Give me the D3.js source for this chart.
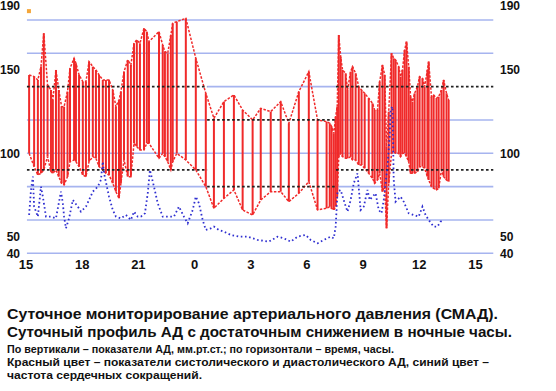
<html>
<head>
<meta charset="UTF-8"/>
<script src="https://d3js.org/d3.v7.min.js"></script>
<style>
body{margin:0;background:#fff;}
text{font-family:"Liberation Sans",Arial,sans-serif;font-weight:bold;fill:#111;}
</style>
</head>
<body>
<script>
const width = 556, height = 391;

// измерения АД: время, систолическое, диастолическое
const times = ["15:10","15:26","15:38","15:48","15:57","16:09","16:20","16:26","16:36","16:45","16:54","17:02","17:13","17:21","17:34","17:40","17:50","18:02","18:12","18:22","18:34","18:44","18:54","19:06","19:16","19:26","19:38","19:48","19:58","20:04","20:14","20:26","20:36","20:46","20:55","21:05","21:18","21:27","21:34","22:06","22:18","22:25","22:34","22:44","22:50","23:03","23:32",
  "00:04","00:36","01:02","01:34","02:06","02:34","03:06","03:32","04:04","04:36","05:02","05:34","06:06","06:34","07:03","07:13","07:19","07:26","07:32","07:37",
  "07:42","07:48","07:54","08:04","08:10","08:20","08:26","08:36","08:46","08:55","09:05","09:18","09:30","09:37","09:46","09:53","10:02","10:09","10:15","10:22","10:31","10:38","10:44","10:54","11:00","11:06","11:13","11:19","11:26","11:32","11:38","11:45","11:54","12:01","12:10","12:17","12:26","12:30","12:39","12:46","12:55","13:02","13:11","13:18","13:27","13:34"];
const sys = [147,146,144,152,172,141,138,132,150,138,128,128,137,151,157,154,147,143,143,155,152,150,147,144,144,144,138,128,132,137,149,156,153,166,168,166,175,173,167,173,165,161,160,171,178,179,181,
  157,136,121,131,135,126,120,127,125,131,118,137,149,120,119,118,116,112,122,128,
  171,158,150,148,138,149,152,148,140,138,136,133,130,126,126,143,153,147,104,125,160,157,156,152,146,150,162,167,152,134,131,136,140,146,145,140,150,155,134,135,133,134,138,144,136,132];
const dia = [100,92,87,88,90,98,89,88,90,86,82,81,86,95,96,95,92,87,86,95,98,97,92,90,88,87,82,77,73,82,96,86,86,106,104,102,102,106,106,97,100,98,95,90,95,100,96,
  90,80,67,73,78,66,63,72,77,77,71,76,83,66,67,68,67,66,68,74,
  98,100,98,97,97,98,96,96,93,93,91,88,85,82,84,88,77,80,55,82,100,101,100,100,98,100,100,98,95,88,88,88,89,92,92,91,86,84,80,79,78,79,90,86,84,83];

// ЧСС
const hrTimes = ["15:10","15:16","15:22","15:26","15:38","15:48","15:54","16:04","16:20","16:36","16:52","16:58","17:02","17:08","17:18","17:30","17:46","17:56","18:12","18:22","18:34","18:50","19:00","19:06","19:10","19:26","19:38","19:48","20:04","20:20","20:36","20:46","20:58","21:08","21:21","21:30","21:37","21:50","22:02","22:18","22:34","22:54","23:10","23:26","23:38","23:54",
  "00:04","00:14","00:26","00:36","00:52","01:02","01:18","01:34","01:56","02:22","02:50","03:22","03:58","04:26","04:46","05:08","05:30","05:56","06:12","06:34","06:54","07:16","07:26","07:32",
  "07:38","07:48","08:01","08:10","08:20","08:30","08:42","08:52","09:02","09:14","09:21","09:30","09:40","09:50","09:59","10:06","10:18","10:25","10:28","10:34","10:38","10:44","11:00","11:10","11:26","11:42","11:58","12:10","12:20","12:30","12:46","12:58","13:08","13:18"];
const hr = [63,78,86,68,62,80,74,62,62,61,77,70,62,55,61,72,68,65,68,72,77,80,84,95,88,74,66,62,61,63,60,65,62,62,64,76,90,80,70,62,62,62,68,62,58,66,
  74,70,60,54,55,56,54,53,51,50,50,48,47,50,49,47,50,51,48,46,48,50,49,56,
  77,78,70,65,72,82,88,66,68,78,72,74,76,66,64,72,92,110,126,128,84,71,74,71,64,63,62,68,63,60,56,56,59,60];

const xTickValues = [15,18,21,24,27,30,33,36,39];
const xTickLabels = ["15","18","21","0","3","6","9","12","15"];
const yTickValues = [190,150,100,50,40];
const gridValues = [40,60,80,100,120,140,160,180];

// пороги: день 140/90, ночь 120/80
const dayLimits = [140,90];
const nightLimits = [120,80];
const nightFrom = 24.67, nightTo = 31.55;
const gridFrom = 15.05, gridTo = 39.95;

const notes = [
  "Суточное мониторирование артериального давления (СМАД).",
  "Суточный профиль АД с достаточным снижением в ночные часы.",
  "По вертикали – показатели АД, мм.рт.ст.; по горизонтали – время, часы.",
  "Красный цвет – показатели систолического и диастолического АД, синий цвет –",
  "частота сердечных сокращений."
];

function parseT(s){
  const [h,m] = s.split(":").map(Number);
  let t = h + m/60;
  if(t < 15) t += 24;
  return t;
}

const bp = times.map((t,i) => ({t:parseT(t), s:sys[i], d:dia[i]}));
const pulse = hrTimes.map((t,i) => ({t:parseT(t), v:hr[i]}));

const x = d3.scaleLinear().domain([15,39]).range([26,475.5]);
const y = d3.scaleLinear().domain([40,190]).range([253.3,3.3]);

const svg = d3.select("body").append("svg")
  .attr("width",width).attr("height",height);

// сетка (синие линии), с разрывами там, где проходит пороговая линия
const blue = "#a6b4ef";
const segs = [];
gridValues.forEach(v => {
  if(v === 140) segs.push([v,nightFrom,nightTo]);
  else if(nightLimits.includes(v)) { segs.push([v,gridFrom,nightFrom]); segs.push([v,nightTo,gridTo]); }
  else segs.push([v,gridFrom,gridTo]);
});
svg.append("g").selectAll("line").data(segs).enter().append("line")
  .attr("x1",d => x(d[1])).attr("x2",d => x(d[2]))
  .attr("y1",d => y(d[0])).attr("y2",d => y(d[0]))
  .attr("stroke",blue).attr("stroke-width",1.6);

// столбики АД
const red = "#f02a2a";
svg.append("g").selectAll("line").data(bp).enter().append("line")
  .attr("x1",d => x(d.t)).attr("x2",d => x(d.t))
  .attr("y1",d => y(d.d)).attr("y2",d => y(d.s))
  .attr("stroke",red).attr("stroke-width",2);

const sysLine = d3.line().x(d => x(d.t)).y(d => y(d.s));
const diaLine = d3.line().x(d => x(d.t)).y(d => y(d.d));
[sysLine,diaLine].forEach(l => {
  svg.append("path").datum(bp).attr("d",l)
    .attr("fill","none").attr("stroke",red)
    .attr("stroke-width",1.5).attr("stroke-dasharray","2.5,1.5");
});

// пороговые линии
const limits = [];
dayLimits.forEach(v => { limits.push([v,gridFrom,nightFrom]); limits.push([v,nightTo,gridTo]); });
nightLimits.forEach(v => limits.push([v,nightFrom,nightTo]));
svg.append("g").selectAll("line").data(limits).enter().append("line")
  .attr("x1",d => x(d[1])).attr("x2",d => x(d[2]))
  .attr("y1",d => y(d[0])).attr("y2",d => y(d[0]))
  .attr("stroke","#222").attr("stroke-width",1.7).attr("stroke-dasharray","2.6,2.4");

// ЧСС
svg.append("path").datum(pulse)
  .attr("d",d3.line().x(d => x(d.t)).y(d => y(d.v)))
  .attr("fill","none").attr("stroke","#2f2fd0")
  .attr("stroke-width",1.8).attr("stroke-dasharray","1.6,2.6");

// маркер
svg.append("rect").attr("x",x(15.05)).attr("y",y(186.5))
  .attr("width",4).attr("height",4).attr("fill","#f4a63a");

// подписи осей
const labelY = d => Math.max(y(d), 5.8);
svg.append("g").selectAll("text").data(yTickValues).enter().append("text")
  .attr("x",20).attr("y",labelY).attr("dy","0.36em")
  .attr("text-anchor","end").attr("font-size",12).text(d => d);
svg.append("g").selectAll("text").data(yTickValues).enter().append("text")
  .attr("x",500).attr("y",labelY).attr("dy","0.36em")
  .attr("font-size",12).text(d => d);
svg.append("g").selectAll("text").data(xTickValues).enter().append("text")
  .attr("x",d => x(d)).attr("y",268.5)
  .attr("text-anchor","middle").attr("font-size",13)
  .text((d,i) => xTickLabels[i]);

// текст под графиком
const noteY = [319,337,353,366,379];
const noteSize = [15,15,11.5,11.5,11.5];
const noteLen = [491,505,387,482,195];
svg.append("g").selectAll("text").data(notes).enter().append("text")
  .attr("x",7).attr("y",(d,i) => noteY[i])
  .attr("font-size",(d,i) => noteSize[i])
  .attr("textLength",(d,i) => noteLen[i])
  .attr("lengthAdjust","spacingAndGlyphs")
  .text(d => d);
</script>
</body>
</html>
